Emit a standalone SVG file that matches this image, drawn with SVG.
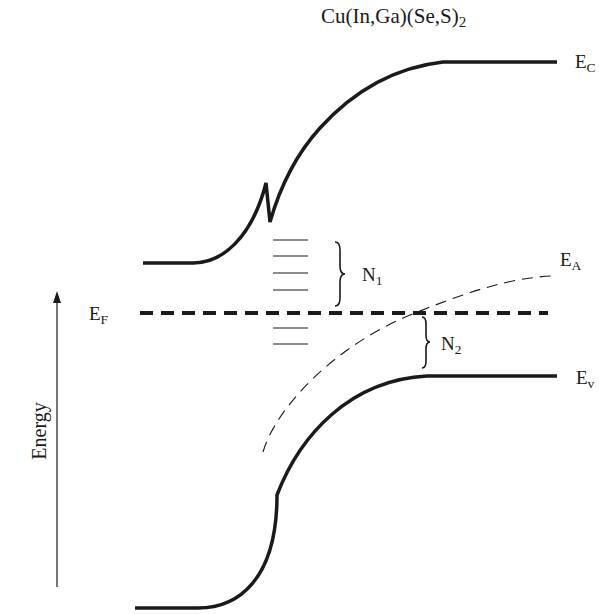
<svg xmlns="http://www.w3.org/2000/svg" width="599" height="614" viewBox="0 0 599 614">
<style>
.band{fill:none;stroke:#1a1a1a;stroke-width:3.5;stroke-linejoin:miter}
.lvl{stroke:#1a1a1a;stroke-width:1.2}
.brace{fill:none;stroke:#1a1a1a;stroke-width:1.6}
.t{font-family:"Liberation Serif","Times New Roman",serif;font-size:19px;fill:#1a1a1a}
.s{font-size:13.5px}
</style>
<rect width="599" height="614" fill="#fff"/>
<g id="title"><text class="t" x="321" y="23" style="font-size:21px">Cu(In,Ga)(Se,S)<tspan class="s" dy="4" style="font-size:15px">2</tspan></text></g>
<g id="conduction-band">
<path class="band" d="M143,263 L193,263 C222,263 252,238 266,183 L270,222 C282,180 300,150 320,128 C350,95 390,68 443,62 L557,62"/>
<text class="t" x="575" y="68">E<tspan class="s" dy="4">C</tspan></text>
</g>
<g id="valence-band">
<path class="band" d="M135,608 L198,608 C238,608 277,580 277,495 C300,435 350,380 427,376 L557,376"/>
<text class="t" x="576" y="384">E<tspan class="s" dy="4">v</tspan></text>
</g>
<g id="fermi-level">
<line x1="140" y1="313" x2="548" y2="313" stroke="#1a1a1a" stroke-width="4" stroke-dasharray="13,8"/>
<text class="t" x="89" y="320">E<tspan class="s" dy="4">F</tspan></text>
</g>
<g id="acceptor-level">
<path d="M263,452 C275,410 332,346 415,313 C470,291 510,278 552,276" fill="none" stroke="#1a1a1a" stroke-width="1.1" stroke-dasharray="11,7"/>
<text class="t" x="560" y="266">E<tspan class="s" dy="4">A</tspan></text>
</g>
<g id="traps">
<line class="lvl" x1="273" y1="240" x2="308" y2="240"/>
<line class="lvl" x1="273" y1="256" x2="308" y2="256"/>
<line class="lvl" x1="273" y1="273" x2="308" y2="273"/>
<line class="lvl" x1="273" y1="290" x2="308" y2="290"/>
<line class="lvl" x1="273" y1="328" x2="308" y2="328"/>
<line class="lvl" x1="273" y1="344" x2="308" y2="344"/>
</g>
<g id="N1">
<path class="brace" d="M335,242 Q340,242 340,250 L340,266 Q340,274 345,274 Q340,274 340,282 L340,298 Q340,306 335,306"/>
<text class="t" x="362" y="281">N<tspan class="s" dy="4">1</tspan></text>
</g>
<g id="N2">
<path class="brace" d="M422,317 Q426,317 426,324 L426,335 Q426,342 430,342 Q426,342 426,349 L426,361 Q426,368 422,368"/>
<text class="t" x="441" y="350">N<tspan class="s" dy="4">2</tspan></text>
</g>
<g id="energy-axis">
<line x1="57" y1="587" x2="57" y2="300" stroke="#1a1a1a" stroke-width="1.2"/>
<polygon points="57,291 53,303 61,303" fill="#1a1a1a"/>
<text class="t" transform="translate(46,431) rotate(-90)" text-anchor="middle" style="font-size:20px">Energy</text>
</g>
</svg>
